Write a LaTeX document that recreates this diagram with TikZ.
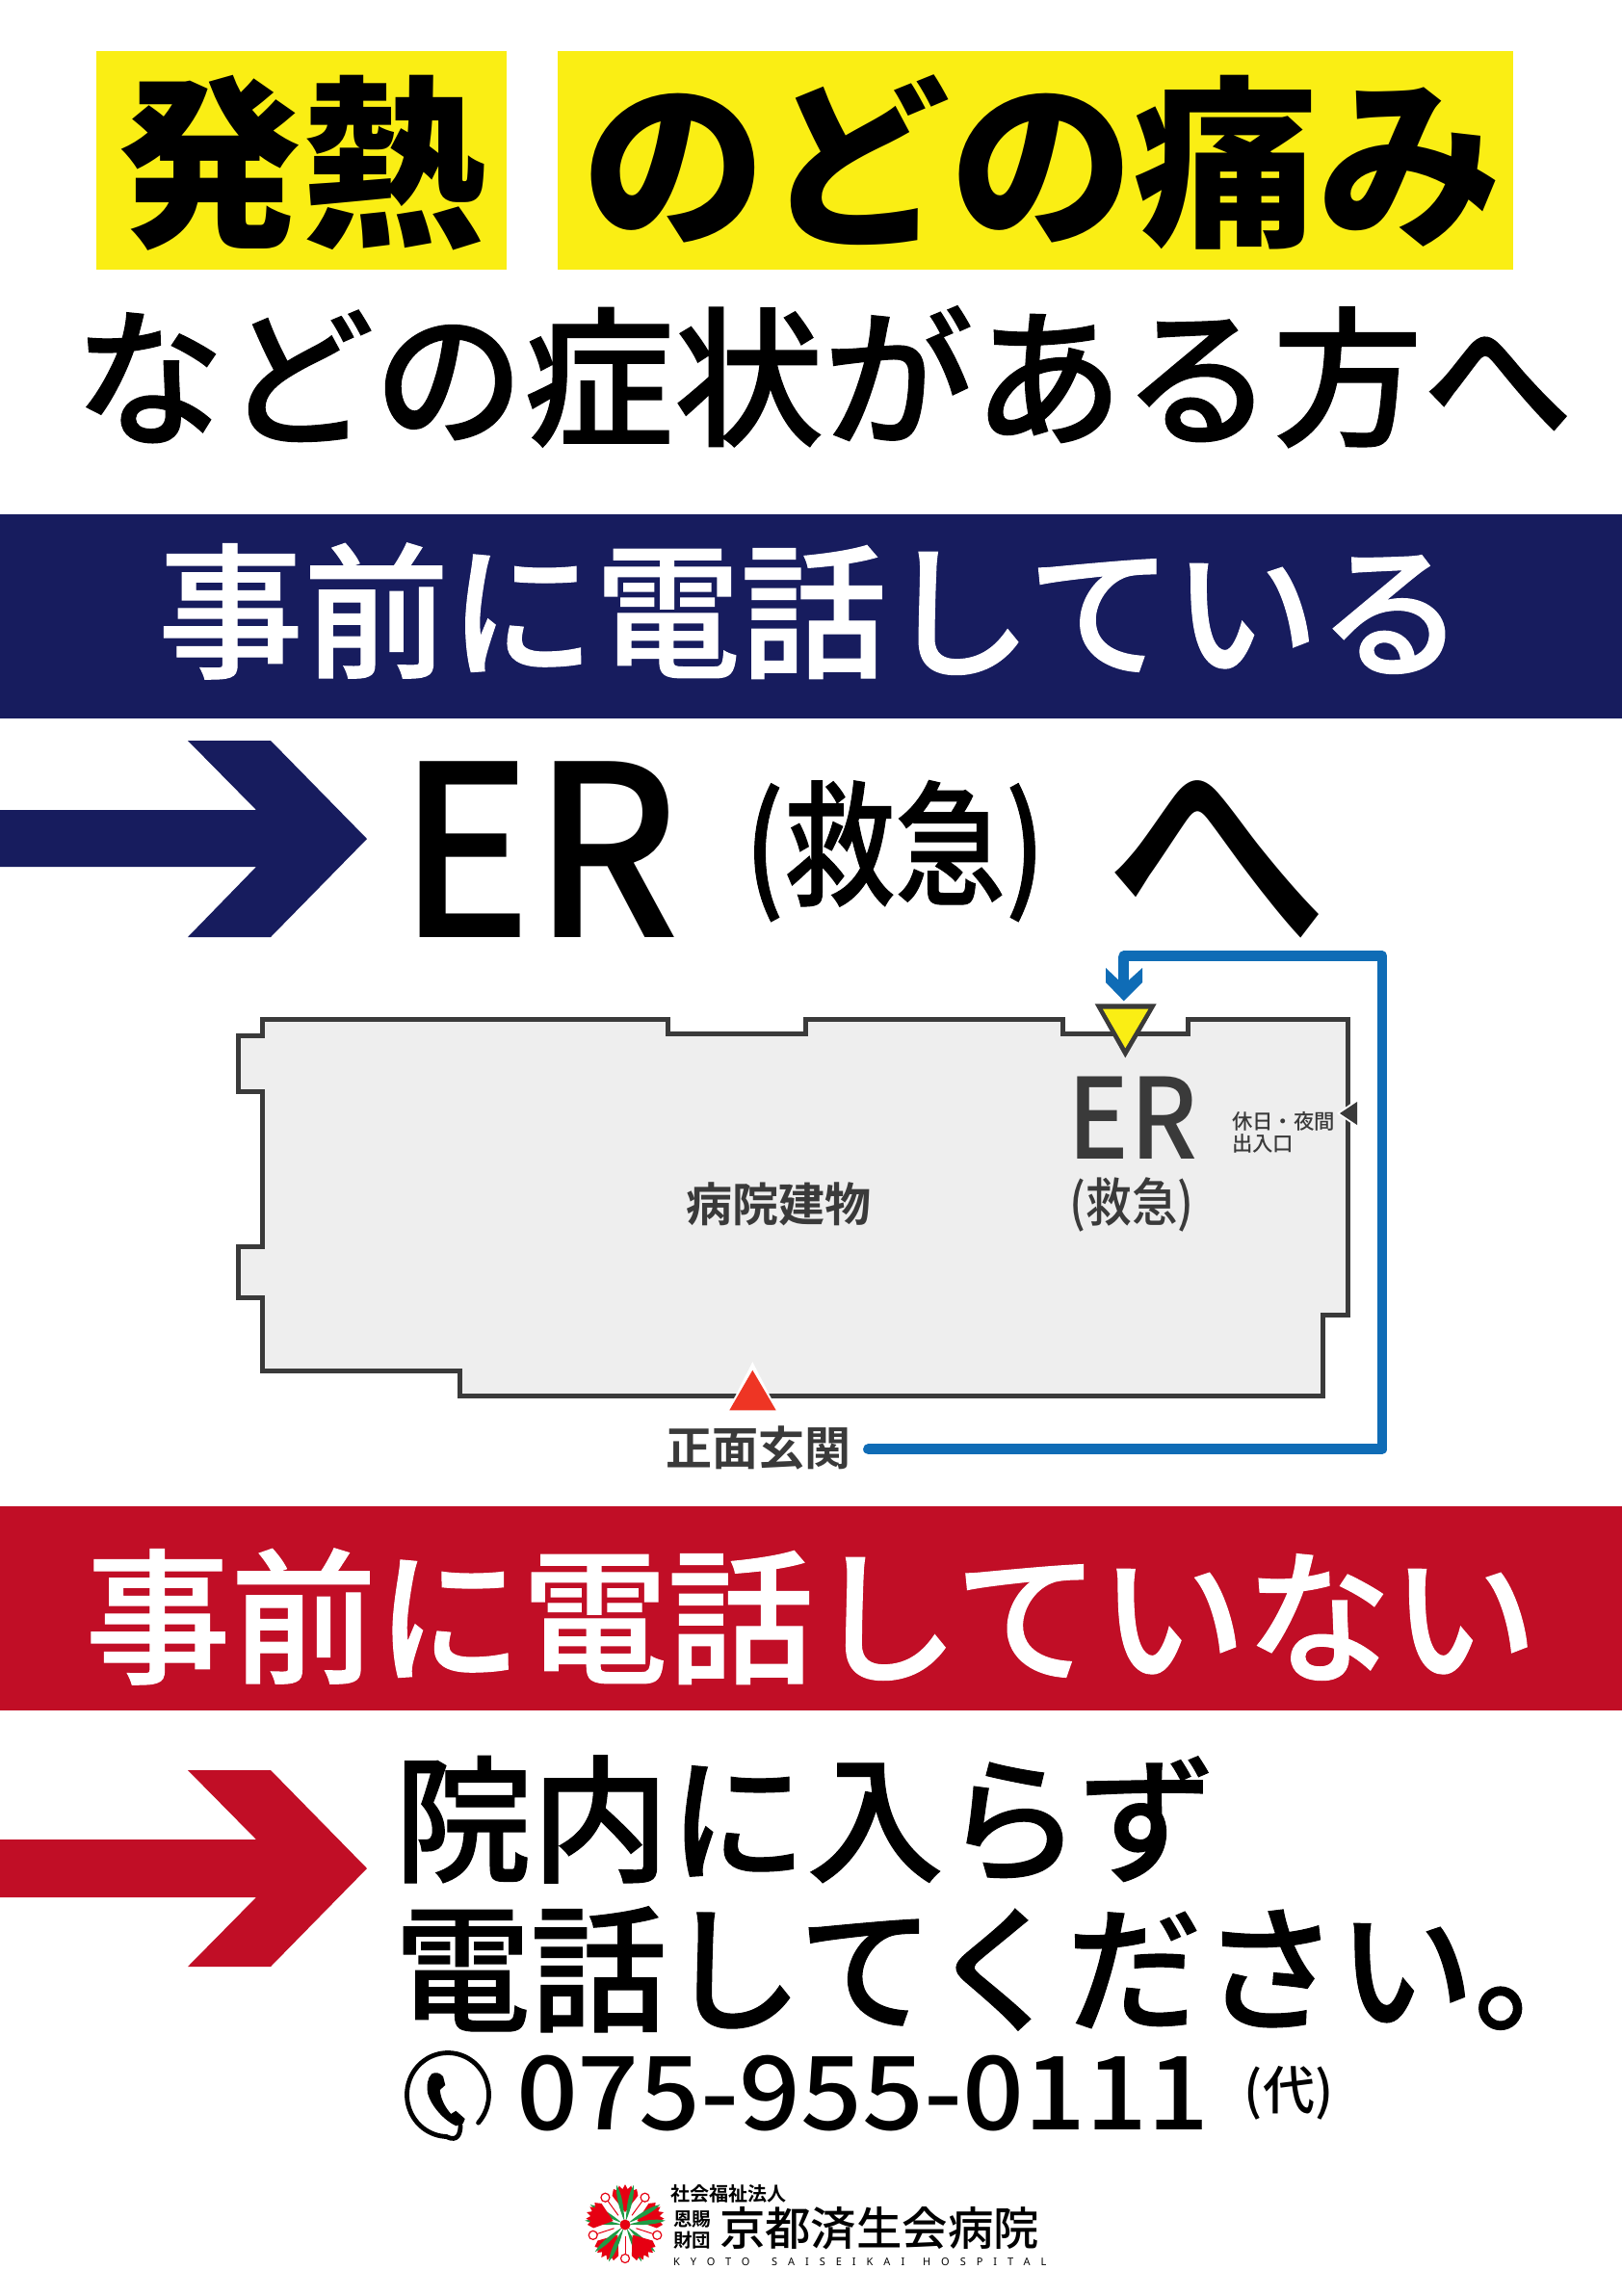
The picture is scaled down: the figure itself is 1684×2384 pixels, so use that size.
\documentclass[tikz,border=0pt]{standalone}
\usepackage{fontspec}
\setmainfont{Noto Sans}
\newfontfamily\cjkblack{Noto Sans CJK JP Black}
\newfontfamily\cjkmed{Noto Sans CJK JP Medium}
\newfontfamily\cjkmedp[FakeBold=0.8]{Noto Sans CJK JP Medium}
\newfontfamily\cjkbold{Noto Sans CJK JP Bold}
\newcommand{\fsz}[1]{\fontsize{#1}{#1}\selectfont}
\definecolor{navy}{HTML}{171C5E}
\definecolor{crim}{HTML}{C10E26}
\definecolor{yel}{HTML}{FAEE14}
\definecolor{route}{HTML}{0F6CB6}
\definecolor{ink}{HTML}{3A3A3A}
\definecolor{bldg}{HTML}{EEEEEE}
\definecolor{entr}{HTML}{EE3524}
\definecolor{logored}{HTML}{E60012}
\definecolor{logogreen}{HTML}{1E9B45}
\tikzset{
  t/.style={inner sep=0pt,outer sep=0pt,anchor=base},
  tl/.style={inner sep=0pt,outer sep=0pt,anchor=base west},
}
\begin{document}
\begin{tikzpicture}[x=0.5pt,y=-0.5pt]
\useasboundingbox (0,0) rectangle (1684,2384);
\fill[white] (0,0) rectangle (1684,2384);
% headline
\fill[yel] (100,53) rectangle (526,280);
\fill[yel] (579,53) rectangle (1571,280);
\node[t] (fever) at (313,241) {\cjkblack\fsz{95.5}発熱};
\node[t] (throat) at (1082,241) {\cjkblack\fsz{95.5}のどの痛み};
\node[t,xscale=0.997] (symptoms) at (855,451) {\cjkmedp\fsz{78}などの症状がある方へ};
% navy band
\fill[navy] (0,533.5) rectangle (1684,746);
\node[t,white] (called) at (842,692) {\cjkmedp\fsz{75.6}事前に電話している};
% navy arrow
\fill[navy] (0,841) -- (266,841) -- (195,769) -- (281,769) -- (381,871) -- (281,973) -- (195,973) -- (266,900) -- (0,900) -- cycle;
\node[t,xscale=0.94] (er) at (560,973) {\cjkmed\fsz{124}ER};
\node[t,xscale=0.82] (kyu) at (929,929) {\cjkmedp\fsz{70}(救急)};
\node[t,xscale=0.97,yscale=1.1] (he) at (1263,981) {\cjkmed\fsz{120}へ};
% building
\draw[ink,line width=2.5pt,fill=bldg,line join=miter] (272,1058) -- (693,1058) -- (693,1073) -- (836,1073) -- (836,1058) -- (1103,1058) -- (1103,1073) -- (1233.5,1073) -- (1233.5,1058) -- (1399,1058) -- (1399,1365) -- (1373,1365) -- (1373,1449) -- (477,1449) -- (477,1423) -- (272,1423) -- (272,1347) -- (247,1347) -- (247,1294.7) -- (272,1294.7) -- (272,1133) -- (247,1133) -- (247,1075.8) -- (272,1075.8) -- cycle;
\node[t,ink] (bname) at (808,1268) {\cjkbold\fsz{24}病院建物};
\node[t,ink,xscale=0.92] (er2) at (1176,1203) {\cjkmed\fsz{58}ER};
\node[t,ink,xscale=0.88] (kyu2) at (1175,1268) {\cjkmed\fsz{27}(救急)};
\node[tl,ink] (night1) at (1279,1172) {\cjkmed\fsz{10.7}休日・夜間};
\node[tl,ink] (night2) at (1279,1195) {\cjkmed\fsz{10.7}出入口};
% markers
\fill[white] (1388,1156) -- (1411,1140) -- (1411,1172) -- cycle;
\fill[ink] (1391,1156) -- (1409,1144) -- (1409,1168) -- cycle;
\fill[white] (781.3,1414) -- (753,1470) -- (810,1470) -- cycle;
\fill[entr] (781.3,1422.7) -- (757.3,1464.3) -- (805.7,1464.3) -- cycle;
\fill[ink] (1136.7,1042.3) -- (1200.7,1042.3) -- (1168.3,1098.3) -- cycle;
\fill[yel] (1145,1047.7) -- (1192.3,1047.7) -- (1168.3,1088.3) -- cycle;
% route
\coordinate (rstart) at (901.5,1504.7);
\coordinate (rc1) at (1435,1504.7);
\coordinate (rc2) at (1435,992.7);
\coordinate (rc3) at (1166.7,992.7);
\coordinate (rend) at (1166.7,1020);
\node[t,ink] (front) at (787,1521) {\cjkbold\fsz{24}正面玄関};
\draw[route,line width=5.4pt,line join=round] (rc3) -- (rend);
\draw[route,line width=5.4pt,line cap=round,line join=round] (rstart) -- (rc1) -- (rc2) -- (rc3);
\fill[route] (1148,1005) -- (1161.7,1018) -- (1171.7,1018) -- (1186,1005) -- (1186,1020) -- (1166.7,1039.3) -- (1148,1020) -- cycle;
% red band
\fill[crim] (0,1564) rectangle (1684,1776);
\node[t,white] (notcalled) at (842,1736) {\cjkmedp\fsz{75.6}事前に電話していない};
\fill[crim] (0,1910) -- (266,1910) -- (195,1838) -- (281,1838) -- (381,1940) -- (281,2042) -- (195,2042) -- (266,1970) -- (0,1970) -- cycle;
\node[tl] (l1) at (409.5,1943) {\cjkmedp\fsz{71.3}院内に入らず};
\node[tl,xscale=0.99] (l2) at (409.5,2098) {\cjkmedp\fsz{71.3}電話してください。};
% phone
\draw[black,line width=2.4pt,line cap=round] plot[domain=42:-268,samples=80,smooth] ({465+42.5*cos(\x)},{2175+43.5*sin(\x)}) .. controls (470,2222) and (478,2222) .. (478,2207);
\fill[black] (448.3,2153.3) .. controls (452,2151.5) and (456,2151.5) .. (460,2156) -- (462.3,2165) -- (456.7,2170) .. controls (458,2182) and (464,2190) .. (468.3,2195) -- (473.3,2191.7) -- (482.7,2200) -- (480.7,2205) -- (473.3,2207.3) .. controls (462,2202) and (448,2188) .. (444,2173.3) .. controls (443,2165) and (443.5,2158) .. (448.3,2153.3) -- cycle;
\node[tl,xscale=1.058] (tel) at (536,2211) {\cjkmed\fsz{53}075-955-0111};
\node[t] (dai) at (1338,2190) {\cjkmed\fsz{27}(代)};
% logo
\begin{scope}[shift={(649,2310)}]
 \foreach \a in {-90,-18,54,126,198}{
  \fill[logored] (\a:13) -- (\a-24:33) -- (\a-18:39) -- (\a-12:36) -- (\a-9:41) -- (\a-4:37) -- (\a:42) -- (\a+4:37) -- (\a+9:41) -- (\a+12:36) -- (\a+18:39) -- (\a+24:33) -- cycle;
  \foreach \b in {24,48}{
   \fill[logogreen,rotate=\a+\b] (4,0) .. controls (18,2.6) and (32,3.4) .. (42,0) .. controls (32,-3.4) and (18,-2.6) .. (4,0) -- cycle;
  }
  \draw[logored,line width=0.5pt] (\a+36:12) -- (\a+36:31);
  \draw[logored,line width=0.6pt,fill=white] (\a+36:35) circle[radius=4.5];
 }
 \fill[logored] (0,0) circle[radius=5.5];
\end{scope}
\node[tl] (lg1) at (696,2285) {\cjkbold\fsz{10}社会福祉法人};
\node[tl] (lg2) at (699,2311) {\cjkbold\fsz{9.75}恩賜};
\node[tl] (lg3) at (699,2333) {\cjkbold\fsz{9.75}財団};
\node[tl] (lg4) at (747,2331) {\cjkmed\fsz{23.7}京都済生会病院};
\node[tl] (lg5) at (699,2352) {\addfontfeature{LetterSpace=100}\fsz{5.5}KYOTO};
\node[tl] (lg6) at (801,2352) {\addfontfeature{LetterSpace=100}\fsz{5.5}SAISEIKAI};
\node[tl] (lg7) at (958,2352) {\addfontfeature{LetterSpace=100}\fsz{5.5}HOSPITAL};
\end{tikzpicture}
\end{document}
